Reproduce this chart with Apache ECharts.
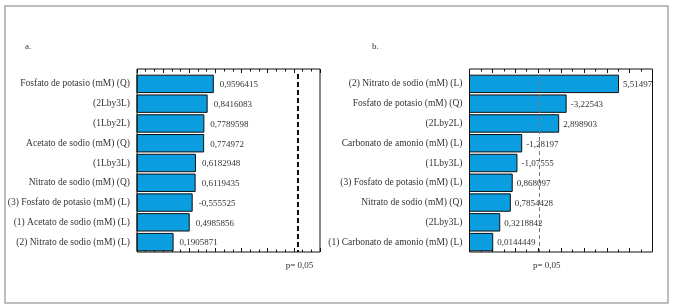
<!DOCTYPE html>
<html>
<head>
    <meta charset="utf-8">
    <style>
        html, body { width: 100%; height: 100%; margin: 0; background: #fff; }
        #chart-panel { width: 675px; height: 308px; }
    </style>
    <script src="https://cdnjs.cloudflare.com/ajax/libs/echarts/6.0.0/echarts.min.js"></script>
</head>
<body>
<div id="chart-panel"></div>
<script type="text/javascript">
  // panel a
  var catsA = ['Fosfato de potasio (mM) (Q)', '(2Lby3L)', '(1Lby2L)', 'Acetato de sodio (mM) (Q)',
               '(1Lby3L)', 'Nitrato de sodio (mM) (Q)', '(3) Fosfato de potasio (mM) (L)',
               '(1) Acetato de sodio (mM) (L)', '(2) Nitrato de sodio (mM) (L)'];
  var effectsA = [0.9596415, 0.8416083, 0.7789598, 0.774972, 0.6182948, 0.6119435, -0.555525, 0.4985856, 0.1905871];
  var critA = 2.57;

  // panel b
  var catsB = ['(2) Nitrato de sodio (mM) (L)', 'Fosfato de potasio (mM) (Q)', '(2Lby2L)',
               'Carbonato de amonio (mM) (L)', '(1Lby3L)', '(3) Fosfato de potasio (mM) (L)',
               'Nitrato de sodio (mM) (Q)', '(2Lby3L)', '(1) Carbonato de amonio (mM) (L)'];
  var effectsB = [5.51497, -3.22543, 2.898903, -1.28197, -1.07555, 0.868097, 0.7854428, 0.3218842, 0.0144449];
  var critB = 2.03;

  var pText = 'p= 0,05';
  var serif = '"Liberation Serif", "DejaVu Serif", serif';
  var barBlue = '#0a9ddf';

  var myChart = echarts.init(document.getElementById('chart-panel'));

  function fmt(v) { return String(v).replace('.', ','); }

  function xAx(gi, pos, min, max, interval, minor) {
    return {
      type: 'value', gridIndex: gi, position: pos, min: min, max: max, interval: interval,
      offset: pos === 'top' ? 5 : 0,
      axisLine: { show: false },
      axisLabel: { show: false },
      splitLine: { show: false },
      axisTick: { show: true, inside: true, length: 4, lineStyle: { color: '#111' } },
      minorTick: { show: true, splitNumber: minor, length: 2.5, lineStyle: { color: '#111' } }
    };
  }

  function yAx(gi, cats) {
    return {
      type: 'category', gridIndex: gi, data: cats, inverse: true,
      axisLine: { show: false }, axisTick: { show: false },
      axisLabel: { fontFamily: serif, fontSize: 9.5, color: '#333', margin: 7, padding: [0, 0, 6, 0] }
    };
  }

  // bars start at the left edge of the axis (Pareto style), so drawn as custom rects
  function barSeries(gi, effects, xMin, crit, lineStyle, labelDist, pOffset) {
    return {
      type: 'custom', xAxisIndex: gi * 2, yAxisIndex: gi,
      data: effects.map(function (v, i) { return [Math.abs(v), i, v]; }),
      encode: { x: 0, y: 1 },
      renderItem: function (params, api) {
        var ci = api.value(1);
        var s = api.coord([xMin, ci]);
        var e = api.coord([api.value(0), ci]);
        var h = api.size([0, 1])[1] * 0.88;
        return {
          type: 'rect',
          shape: { x: s[0], y: s[1] - h / 2, width: e[0] - s[0], height: h },
          style: { fill: barBlue, stroke: '#111', lineWidth: 1 },
          textContent: {
            style: { text: fmt(api.value(2)), fontFamily: serif, fontSize: 9, fill: '#333' }
          },
          textConfig: { position: 'right', distance: labelDist, offset: [0, 1] }
        };
      },
      markLine: {
        silent: true, symbol: 'none', animation: false,
        lineStyle: lineStyle,
        label: { show: true, position: 'end', formatter: pText, distance: 9, offset: pOffset,
                 fontFamily: serif, fontSize: 9, color: '#333' },
        data: [{ xAxis: crit }]
      }
    };
  }

  var option = {
    animation: false,
    title: [
      { text: 'a.', left: 20, top: 37, textStyle: { fontFamily: serif, fontSize: 9, fontWeight: 'normal', color: '#333' } },
      { text: 'b.', left: 367, top: 37, textStyle: { fontFamily: serif, fontSize: 9, fontWeight: 'normal', color: '#333' } }
    ],
    grid: [
      { left: 137, right: 355, top: 74, bottom: 56 },
      { left: 469.5, right: 22.5, top: 74, bottom: 56 }
    ],
    xAxis: [
      xAx(0, 'bottom', -0.5, 3, 0.5, 3),
      xAx(0, 'top', -0.5, 3, 0.5, 3),
      xAx(1, 'bottom', -1, 7, 1, 2),
      xAx(1, 'top', -1, 7, 1, 2)
    ],
    yAxis: [yAx(0, catsA), yAx(1, catsB)],
    series: [
      barSeries(0, effectsA, -0.5, critA, { type: [5, 3], color: '#111', width: 2 }, 6, [2, 0]),
      barSeries(1, effectsB, -1, critB, { type: [4, 3], color: '#777', width: 1 }, 4, [8, 0])
    ],
    graphic: [
      // outer frame
      { type: 'rect', shape: { x: 5, y: 6, width: 663, height: 297 }, style: { fill: null, stroke: '#a8a8a8', lineWidth: 1.5 }, silent: true },
      // plot frames
      { type: 'rect', shape: { x: 137, y: 69, width: 183, height: 183 }, style: { fill: null, stroke: '#111', lineWidth: 1 }, silent: true, z: 10 },
      { type: 'rect', shape: { x: 469.5, y: 69, width: 183, height: 183 }, style: { fill: null, stroke: '#111', lineWidth: 1 }, silent: true, z: 10 }
    ]
  };

  myChart.setOption(option);
</script>
</body>
</html>
